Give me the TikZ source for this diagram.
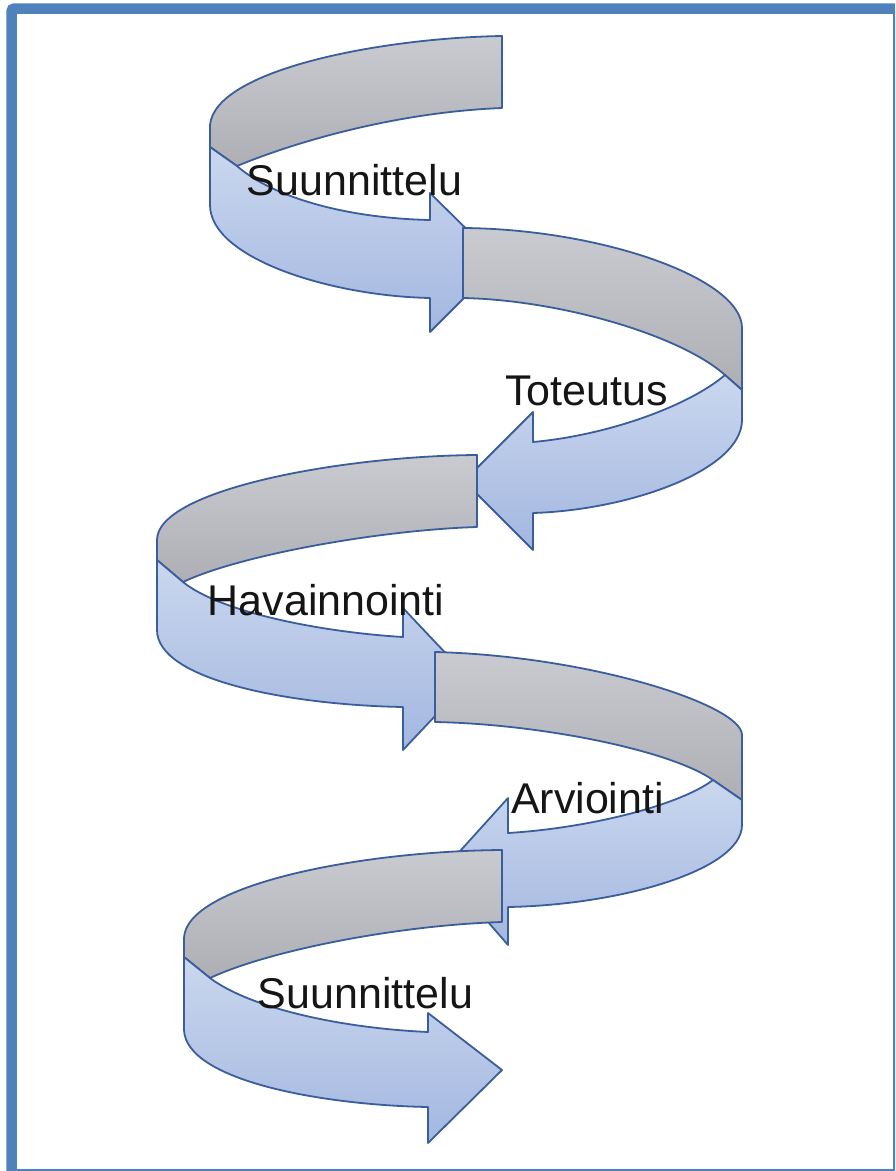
\documentclass[tikz,border=0pt]{standalone}
\usepackage{fontspec}
\setmainfont{Liberation Sans}
\definecolor{frameblue}{HTML}{4F81BD}
\definecolor{ribbonedge}{HTML}{3A5D9C}
\definecolor{backtop}{HTML}{C9CBD0}
\definecolor{backbot}{HTML}{ADAFB5}
\definecolor{fronttop}{HTML}{CAD7EE}
\definecolor{frontbot}{HTML}{A3B7E0}
\definecolor{stagetext}{HTML}{151515}
\begin{document}
\begin{tikzpicture}[x=1pt,y=-1pt,
  edge/.style={draw=ribbonedge, line width=1.8pt, line join=round},
  backface/.style={edge, top color=backtop, bottom color=backbot},
  frontface/.style={edge, top color=fronttop, bottom color=frontbot},
  stage/.style={font=\fontsize{43}{50}\selectfont, text=stagetext, inner sep=0pt, anchor=base}]
\useasboundingbox (0,0) rectangle (895,1171);

% outer frame, partly cut off at the right and bottom
\begin{scope}
  \clip (0,0) rectangle (895,1171);
  \draw[frameblue, line width=10.5pt, rounded corners=3pt] (11.5,8.5) rectangle (898.3,1174.3);
\end{scope}

% turn 1: from the back right, round the left side, pointing right
\path[backface] (502,36) .. controls (380,38) and (215,70) .. (210,125) -- (210,147) -- (237,166)
  .. controls (300,140) and (400,112) .. (502,108) -- cycle;
\path[frontface] (210,147) -- (210,205) .. controls (210,258) and (330,296) .. (430,298)
  -- (430,332) -- (500,262) -- (430,193) -- (430,220)
  .. controls (340,218) and (270,195) .. (237,166) -- cycle;

% turn 2: round the right side, pointing left
\path[backface] (463,228) .. controls (600,229) and (742,278) .. (742,328) -- (742,390) -- (725,375)
  .. controls (680,335) and (560,300) .. (463,298) -- cycle;
\path[frontface] (742,390) -- (742,420) .. controls (742,470) and (630,510) .. (533,513)
  -- (533,550) -- (464,481) -- (533,412) -- (533,442)
  .. controls (610,435) and (690,405) .. (725,375) -- cycle;

% turn 3: round the left side, pointing right
\path[backface] (477,455) .. controls (340,456) and (157,490) .. (157,540) -- (157,560) -- (183,582)
  .. controls (240,555) and (380,530) .. (477,527) -- cycle;
\path[frontface] (157,560) -- (157,630) .. controls (157,680) and (290,705) .. (403,707)
  -- (403,750) -- (470,679) -- (403,608) -- (403,637)
  .. controls (320,632) and (220,612) .. (183,582) -- cycle;

% turn 4: round the right side, pointing left
\path[backface] (435,652) .. controls (590,656) and (742,705) .. (742,735) -- (742,800) -- (713,780)
  .. controls (670,750) and (540,724) .. (435,722) -- cycle;
\path[frontface] (742,800) -- (742,825) .. controls (742,870) and (620,905) .. (508,907)
  -- (508,945) -- (443,870) -- (508,798) -- (508,833)
  .. controls (590,828) and (680,805) .. (713,780) -- cycle;

% turn 5: round the left side, pointing right
\path[backface] (502,850) .. controls (360,851) and (186,885) .. (184,938) -- (184,957) -- (210,978)
  .. controls (270,950) and (400,925) .. (502,922) -- cycle;
\path[frontface] (184,957) -- (184,1030) .. controls (186,1080) and (320,1105) .. (428,1107)
  -- (428,1143) -- (502,1070) -- (428,1013) -- (428,1032)
  .. controls (340,1028) and (250,1008) .. (210,978) -- cycle;

% stage labels
\node[stage] (lbl1) at (354.5,195) {Suunnittelu};
\node[stage] (lbl2) at (586.5,405) {Toteutus};
\node[stage] (lbl3) at (326,615) {Havainnointi};
\node[stage] (lbl4) at (587.5,813) {Arviointi};
\node[stage] (lbl5) at (365.5,1008) {Suunnittelu};
\end{tikzpicture}
\end{document}
